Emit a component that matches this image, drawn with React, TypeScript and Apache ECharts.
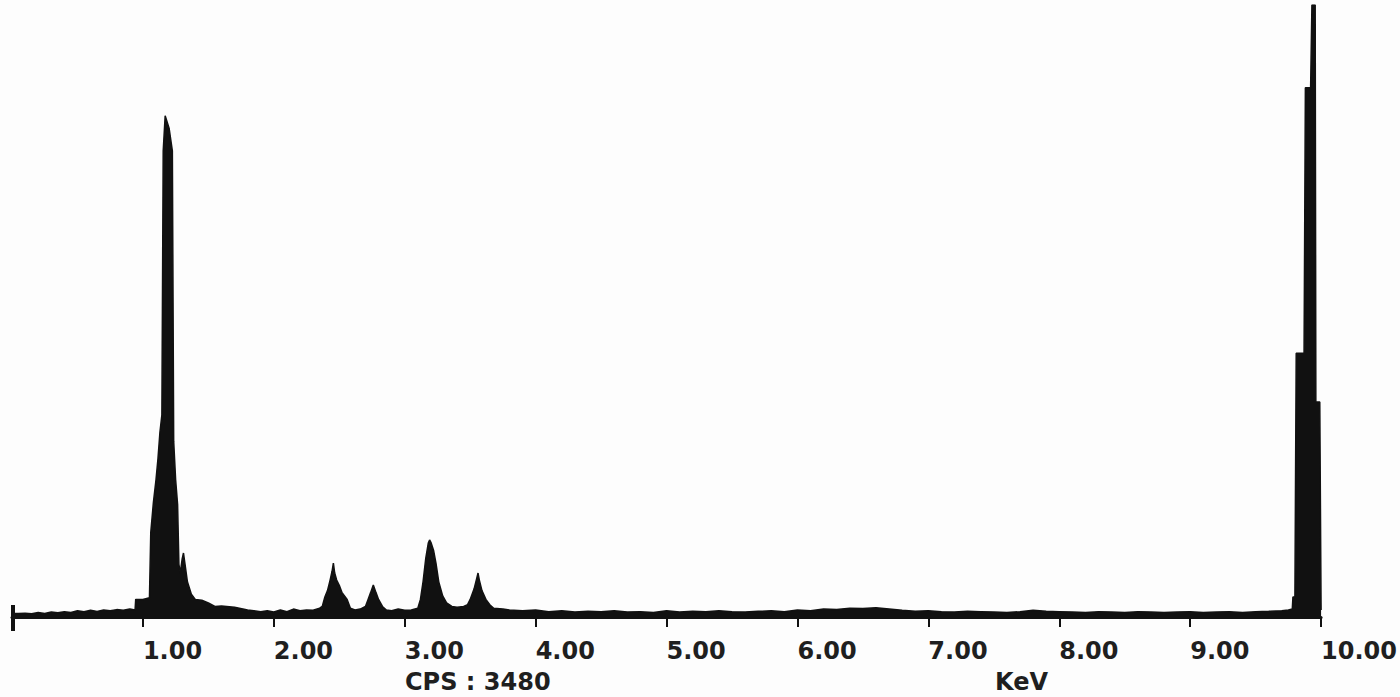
import React, { useEffect, useRef } from "react";
import * as echarts from "echarts";

// EDS spectrum: energy (keV) and counts (CPS)
const energyKeV = [
  0.0, 0.05, 0.1, 0.15, 0.2, 0.25, 0.3, 0.35, 0.4, 0.45, 0.5, 0.55, 0.6, 0.65, 0.7, 0.75, 0.8, 0.85, 0.9, 0.94,
  0.945, 1.0, 1.05, 1.06, 1.08, 1.1, 1.115, 1.13, 1.145, 1.155, 1.17, 1.2, 1.225, 1.235, 1.25, 1.265, 1.275, 1.285,
  1.3, 1.31, 1.32, 1.34, 1.37, 1.4, 1.45, 1.5, 1.55, 1.6, 1.7, 1.8, 1.9,
  1.95, 2.0, 2.05, 2.1, 2.15, 2.2, 2.25, 2.3, 2.35,
  2.37, 2.39, 2.41, 2.43, 2.445, 2.455, 2.465, 2.48, 2.5, 2.52, 2.56, 2.585, 2.62, 2.66, 2.7,
  2.72, 2.74, 2.76, 2.78, 2.8, 2.83, 2.86, 2.9, 2.95, 3.0, 3.05, 3.1,
  3.12, 3.14, 3.16, 3.18, 3.19, 3.2, 3.22, 3.24, 3.26, 3.29, 3.32, 3.36, 3.4, 3.45,
  3.48, 3.5, 3.53, 3.55, 3.56, 3.57, 3.59, 3.62, 3.65, 3.68, 3.75, 3.8, 3.9,
  4.0, 4.1, 4.2, 4.3, 4.4, 4.5, 4.6, 4.7, 4.8, 4.9, 5.0, 5.1, 5.2, 5.3, 5.4, 5.5, 5.6, 5.7, 5.8, 5.9,
  6.0, 6.1, 6.2, 6.3, 6.4, 6.5, 6.6, 6.7, 6.8, 6.9, 7.0, 7.1, 7.2, 7.3, 7.4, 7.5, 7.6, 7.7, 7.8, 7.9,
  8.0, 8.1, 8.2, 8.3, 8.4, 8.5, 8.6, 8.7, 8.8, 8.9, 9.0, 9.1, 9.2, 9.3, 9.4, 9.5, 9.6, 9.7, 9.75, 9.78,
  9.785, 9.8, 9.81, 9.87, 9.88, 9.92, 9.93, 9.955, 9.96, 9.99, 10.0,
];
const countsCps = [
  20, 20, 22, 18, 25, 20, 28, 24, 30, 26, 35, 30, 38, 32, 40, 35, 42, 38, 45, 40,
  100, 100, 110, 480, 650, 780, 900, 1050, 1150, 2650, 2850, 2780, 2650, 1000, 780, 640, 300, 250,
  330, 364, 310, 200, 130, 100, 95, 80, 60, 62, 55, 40, 30,
  35, 28, 40, 30, 45, 35, 40, 38, 50,
  60, 114, 150, 210, 260, 307, 250, 210, 180, 140, 100, 50, 40, 45, 60,
  100, 140, 182, 140, 100, 60, 40, 35, 45, 38, 40, 50,
  100, 200, 330, 420, 438, 425, 380, 300, 200, 120, 80, 60, 55, 60,
  70, 100, 160, 220, 250, 210, 150, 100, 70, 50, 45, 40, 35,
  40, 30, 35, 28, 32, 30, 35, 28, 30, 25, 35, 28, 32, 30, 35, 30, 28, 32, 35, 30,
  40, 35, 45, 42, 50, 48, 52, 45, 38, 32, 35, 30, 28, 32, 30, 28, 25, 30, 38, 32,
  30, 28, 25, 30, 28, 25, 30, 28, 25, 28, 30, 25, 28, 30, 25, 30, 32, 35, 40, 45,
  114, 114, 1500, 1500, 3010, 3010, 3480, 3480, 1222, 1222, 40,
];
const tickLabels = ["1.00", "2.00", "3.00", "4.00", "5.00", "6.00", "7.00", "8.00", "9.00", "10.00"];
const fullScaleCps = 3480;
const cpsLabel = "CPS : 3480";
const unitLabel = "KeV";

export default function App() {
  const ref = useRef<HTMLDivElement>(null);
  useEffect(() => {
    const chart = echarts.init(ref.current as HTMLDivElement, null, { renderer: "svg" });
    const data = energyKeV.map((e, i) => [e, countsCps[i]]);
    chart.setOption({
      animation: false,
      backgroundColor: "#fdfdfd",
      grid: { left: 12, right: 76, top: 5, bottom: 80 },
      xAxis: {
        type: "value",
        min: 0,
        max: 10,
        interval: 1,
        axisLine: { show: true, lineStyle: { color: "#111", width: 3 } },
        axisTick: { show: true, inside: false, length: 10, lineStyle: { color: "#111", width: 2 } },
        axisLabel: {
          margin: 22,
          align: "left",
          verticalAlign: "top",
          color: "#1f1f1f",
          fontFamily: "DejaVu Sans",
          fontWeight: "bold",
          fontSize: 24,
          formatter: (v: number) => (v >= 1 ? tickLabels[Math.round(v) - 1] : ""),
        },
        splitLine: { show: false },
      },
      yAxis: { type: "value", min: 0, max: fullScaleCps, show: false },
      series: [
        {
          type: "line",
          data,
          symbol: "none",
          lineStyle: { color: "#111", width: 1.5 },
          areaStyle: { color: "#111", opacity: 1 },
          z: 3,
        },
      ],
    });
    const p0 = chart.convertToPixel({ gridIndex: 0 }, [0, 0]) as number[];
    chart.setOption({
      graphic: [
        {
          id: "cps",
          type: "text",
          left: 405,
          top: 670,
          style: { text: cpsLabel, fill: "#1f1f1f", font: "bold 24px 'DejaVu Sans'" },
        },
        {
          id: "unit",
          type: "text",
          left: 995,
          top: 670,
          style: { text: unitLabel, fill: "#1f1f1f", font: "bold 24px 'DejaVu Sans'" },
        },
        {
          id: "cap",
          type: "line",
          shape: { x1: p0[0] + 1, y1: p0[1] - 12, x2: p0[0] + 1, y2: p0[1] + 14 },
          style: { stroke: "#111", lineWidth: 4 },
          z: 10,
        },
      ],
    });
    return () => chart.dispose();
  }, []);
  return <div ref={ref} style={{ position: "fixed", left: 0, top: 0, width: 1400, height: 697 }} />;
}
